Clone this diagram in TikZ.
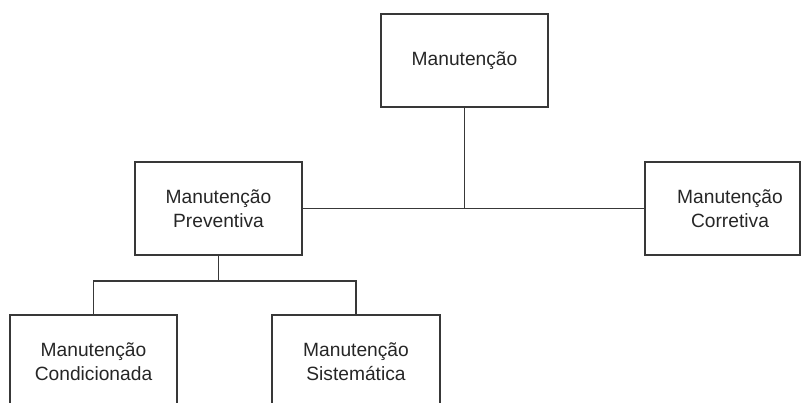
\documentclass[tikz,border=0pt]{standalone}
\usepackage{fontspec}
\setmainfont{Liberation Sans}
\begin{document}
\begin{tikzpicture}[x=1pt,y=-1pt,
  box/.style={draw=black!78,line width=1.1pt,rectangle,inner sep=0pt,
    minimum width=167pt,minimum height=93pt},
  lbl/.style={align=center,text=black!85,font=\fontsize{19.2}{23.5}\selectfont},
  link/.style={draw=black!78,line width=1.1pt}]
\useasboundingbox (0,0) rectangle (802,403);
\begin{scope}
\clip (0,0) rectangle (802,403);
% boxes
\node[box] (top) at (464.5,60.5) {};
\node[box] (prev) at (218.5,208.5) {};
\node[box,minimum width=155pt] (corr) at (722.5,208.5) {};
\node[box] (cond) at (93.5,361.5) {};
\node[box,minimum width=168pt] (sist) at (356,361.5) {};
% texts
\node[lbl] (topt) at (top.center) {Manutenção};
\node[lbl] (prevt) at (prev.center) {Manutenção\\Preventiva};
\node[lbl] (corrt) at (730,208.5) {Manutenção\\Corretiva};
\node[lbl] (condt) at (cond.center) {Manutenção\\Condicionada};
\node[lbl] (sistt) at (sist.center) {Manutenção\\Sistemática};
% connectors
\coordinate (j1) at (top.south |- prev.east);
\draw[link] (top.south) -- (j1);
\draw[link] (prev.east) -- (corr.west);
\coordinate (j2) at (218.5,281);
\draw[link] (prev.south) -- (j2);
\draw[link] (cond.north) -- (cond.north |- j2) -- (sist.north |- j2) -- (sist.north);
\end{scope}
\end{tikzpicture}
\end{document}
